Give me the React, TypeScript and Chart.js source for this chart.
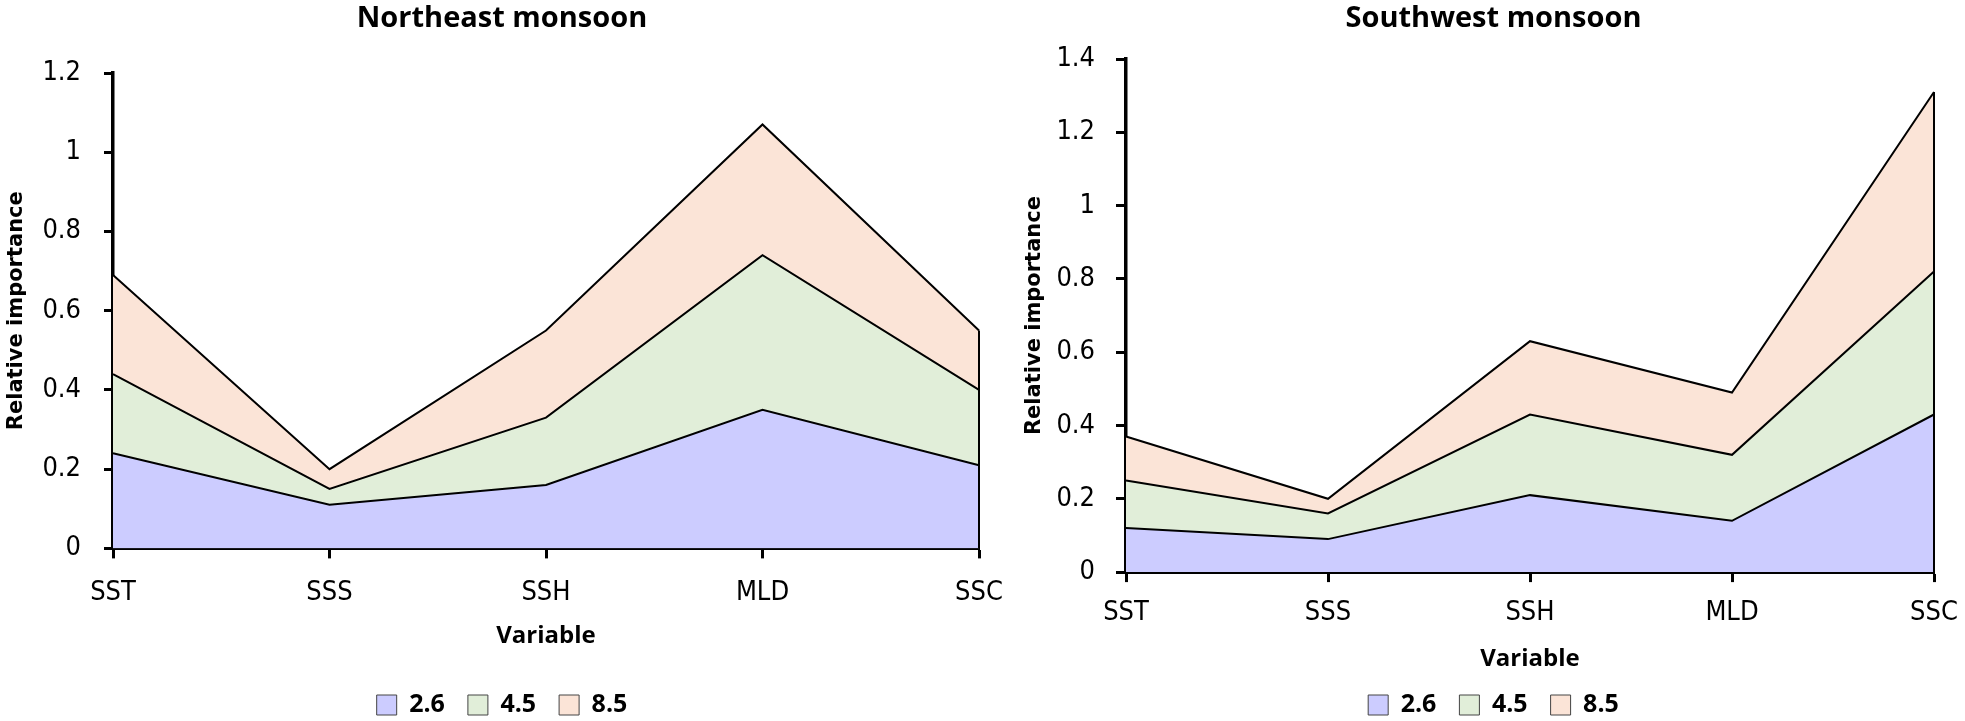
import React, { useEffect, useRef } from 'react'
import { Chart, registerables } from 'chart.js'

Chart.register(...registerables)

const variables = ['SST', 'SSS', 'SSH', 'MLD', 'SSC']
const scenarios = ['2.6', '4.5', '8.5']

// Northeast monsoon, one layer per scenario (stacked)
const ne26 = [0.24, 0.11, 0.16, 0.35, 0.21]
const ne45 = [0.2, 0.04, 0.17, 0.39, 0.19]
const ne85 = [0.25, 0.05, 0.22, 0.33, 0.15]
const neTicks = [0, 0.2, 0.4, 0.6, 0.8, 1, 1.2]

// Southwest monsoon
const sw26 = [0.12, 0.09, 0.21, 0.14, 0.43]
const sw45 = [0.13, 0.07, 0.22, 0.18, 0.39]
const sw85 = [0.12, 0.04, 0.2, 0.17, 0.49]
const swTicks = [0, 0.2, 0.4, 0.6, 0.8, 1, 1.2, 1.4]

const fills = ['#CCCCFF', '#E1EED9', '#FBE4D7']

const narrow = "'Liberation Sans Narrow', 'DejaVu Sans Condensed', 'Noto Sans', sans-serif"
const bold = "'Open Sans', 'Noto Sans', sans-serif"

// closes the right edge of the stacked area like the original
const edgeLine = {
  id: 'edgeLine',
  afterDatasetsDraw(chart: any) {
    const meta = chart.getDatasetMeta(chart.data.datasets.length - 1)
    const last = meta.data[meta.data.length - 1]
    if (!last) return
    const ctx = chart.ctx
    ctx.save()
    ctx.strokeStyle = '#000'
    ctx.lineWidth = 2
    ctx.beginPath()
    ctx.moveTo(last.x, last.y)
    ctx.lineTo(last.x, chart.scales.y.getPixelForValue(0))
    ctx.stroke()
    ctx.restore()
  },
}

interface Layout {
  padLeft: number
  padBottom: number
  yWidth: number
  yTitlePad: number
  yTickPad: number
  yTickLen: number
  rightWidth: number
  titleBottom: number
  xTickPad: number
  xTitleTop: number
  xTitleBottom: number
}

interface MonsoonProps {
  title: string
  series: number[][]
  ticks: number[]
  layout: Layout
}

function MonsoonChart({ title, series, ticks, layout }: MonsoonProps) {
  const ref = useRef<HTMLCanvasElement>(null)

  useEffect(() => {
    const ctx = ref.current
    if (!ctx) return

    const chart = new Chart(ctx, {
      type: 'line',
      data: {
        labels: variables,
        datasets: series.map((values, i) => ({
          label: scenarios[i],
          data: values,
          backgroundColor: fills[i],
          borderColor: '#000',
          borderWidth: 2,
          pointRadius: 0,
          tension: 0,
          fill: i === 0 ? 'origin' : '-1',
        })),
      },
      options: {
        animation: false,
        responsive: true,
        maintainAspectRatio: false,
        layout: { padding: { left: layout.padLeft, right: 0, top: 0, bottom: layout.padBottom } },
        plugins: {
          title: {
            display: true,
            text: title,
            color: '#000',
            font: { family: bold, size: 29, weight: 'bold', lineHeight: 1.2 },
            padding: { top: 1, bottom: layout.titleBottom },
          },
          legend: {
            position: 'bottom',
            labels: {
              boxWidth: 20,
              boxHeight: 20,
              padding: 23,
              color: '#000',
              font: { family: bold, size: 25, weight: 'bold' },
              generateLabels: (c: any) =>
                Chart.defaults.plugins.legend.labels
                  .generateLabels(c)
                  .map((l: any) => ({ ...l, lineWidth: 1, strokeStyle: '#444' })),
            },
          },
          tooltip: { enabled: false },
        },
        scales: {
          x: {
            z: 1,
            offset: false,
            afterFit: (s: any) => {
              s.paddingLeft = 0
              s.paddingRight = 0
            },
            grid: { drawOnChartArea: false, drawTicks: true, tickLength: 10, tickWidth: 3, tickColor: '#000' },
            border: { display: true, color: '#000', width: 4 },
            ticks: { color: '#000', padding: layout.xTickPad, font: { family: narrow, size: 27 } },
            title: {
              display: true,
              text: 'Variable',
              color: '#000',
              font: { family: bold, size: 24, weight: 'bold', lineHeight: 1.1 },
              padding: { top: layout.xTitleTop, bottom: layout.xTitleBottom },
            },
          },
          y: {
            z: 1,
            stacked: true,
            min: 0,
            max: ticks[ticks.length - 1],
            afterBuildTicks: (s: any) => {
              s.ticks = ticks.map((v) => ({ value: v }))
            },
            afterFit: (s: any) => {
              s.width = layout.yWidth
            },
            grid: {
              drawOnChartArea: false,
              drawTicks: true,
              tickLength: layout.yTickLen,
              tickWidth: 3,
              tickColor: '#000',
            },
            border: { display: true, color: '#000', width: 3.5 },
            ticks: {
              color: '#000',
              padding: layout.yTickPad,
              font: { family: narrow, size: 27 },
              callback: (v: any) => String(v),
            },
            title: {
              display: true,
              text: 'Relative importance',
              color: '#000',
              font: { family: "'DejaVu Sans', sans-serif", size: 21, weight: 'bold', lineHeight: 1.2 },
              padding: { top: layout.yTitlePad, bottom: 0 },
            },
          },
          spacer: {
            type: 'linear',
            position: 'right',
            display: true,
            grid: { display: false, drawTicks: false },
            border: { display: false },
            ticks: { display: false },
            afterFit: (s: any) => {
              s.width = layout.rightWidth
            },
          },
        },
      } as any,
      plugins: [edgeLine],
    })

    return () => {
      chart.destroy()
    }
  }, [])

  return <canvas ref={ref}></canvas>
}

export default function App() {
  return (
    <div style={{ position: 'fixed', left: 0, top: 0, width: 1965, height: 721, background: '#fff' }}>
      <div style={{ position: 'absolute', left: 0, top: 0, width: 1004, height: 721 }}>
        <MonsoonChart
          title="Northeast monsoon"
          series={[ne26, ne45, ne85]}
          ticks={neTicks}
          layout={{
            padLeft: 0,
            padBottom: -6.5,
            yWidth: 113,
            yTitlePad: 4,
            yTickPad: 23,
            yTickLen: 9,
            rightWidth: 25,
            titleBottom: 37.2,
            xTickPad: 18,
            xTitleTop: -4,
            xTitleBottom: 20.3,
          }}
        />
      </div>
      <div style={{ position: 'absolute', left: 1004, top: 0, width: 961, height: 721 }}>
        <MonsoonChart
          title="Southwest monsoon"
          series={[sw26, sw45, sw85]}
          ticks={swTicks}
          layout={{
            padLeft: 18,
            padBottom: -6.5,
            yWidth: 104,
            yTitlePad: 0,
            yTickPad: 21,
            yTickLen: 10,
            rightWidth: 31,
            titleBottom: 23.2,
            xTickPad: 14.5,
            xTitleTop: 2.5,
            xTitleBottom: -2.9,
          }}
        />
      </div>
    </div>
  )
}
